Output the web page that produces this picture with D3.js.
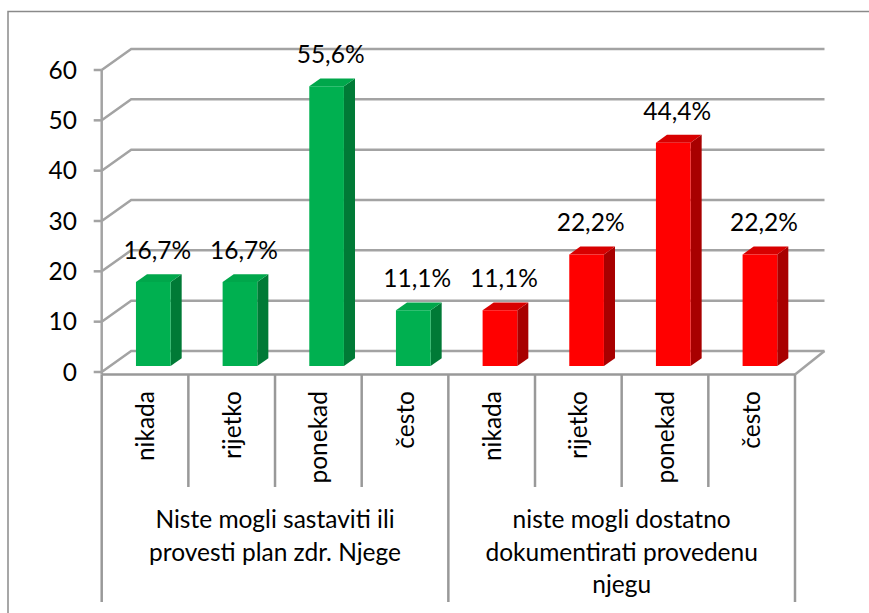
<!DOCTYPE html>
<html><head><meta charset="utf-8">
<script src="https://cdn.jsdelivr.net/npm/d3@7/dist/d3.min.js"></script>
<style>
html,body{margin:0;padding:0;background:#fff;}
svg text{font-family:Lato,"Open Sans",sans-serif;fill:#000;}
</style></head>
<body>
<svg id="chart" width="869" height="613"></svg>
<script>
const categories = ["nikada", "rijetko", "ponekad", "često"];
const groupLabels = [
  ["Niste mogli sastaviti ili", "provesti plan zdr. Njege"],
  ["niste mogli dostatno", "dokumentirati provedenu", "njegu"]
];
const seriesA = [16.7, 16.7, 55.6, 11.1];   // Niste mogli sastaviti...
const seriesB = [11.1, 22.2, 44.4, 22.2];   // niste mogli dostatno...
const labelsA = ["16,7%", "16,7%", "55,6%", "11,1%"];
const labelsB = ["11,1%", "22,2%", "44,4%", "22,2%"];
const yTicks = [0, 10, 20, 30, 40, 50, 60];
const seriesColors = [
  {front: "#00B050", top: "#00A74B", side: "#007A36"},
  {front: "#FF0000", top: "#D80000", side: "#A80000"}
];

// build combined table
const bars = [];
[seriesA, seriesB].forEach((s, g) => s.forEach((v, i) => bars.push({
  g, i, key: g * 4 + i, cat: categories[i], v, label: (g ? labelsB : labelsA)[i]
})));

const svg = d3.select("#chart");
const X0 = 101.7, X1 = 795, Y0 = 372, Ytop = 70;
const DX = 29.5, DY = 21;         // depth offset of back wall
const AXY = 374.5;                 // category axis line
const FS = 24.5;
const x = d3.scaleBand().domain(d3.range(8)).range([X0, X1]).padding(0);
const y = d3.scaleLinear().domain([0, 60]).range([Y0, Ytop]);
const P = (px, py, z) => [px + z * DX, py - z * DY];
const grid = "#A3A3A3";

// outer border
svg.append("rect").attr("x", 8).attr("y", 11.5).attr("width", 880).attr("height", 640)
  .attr("fill", "none").attr("stroke", "#8A8A8A").attr("stroke-width", 1.5);

// walls: gridlines
const gl = svg.append("g").attr("fill", "none").attr("stroke", grid).attr("stroke-width", 2.5);
yTicks.forEach(t => {
  const a = P(X0, y(t), 0), b = P(X0, y(t), 1), c = P(X1, y(t), 1);
  gl.append("path").attr("d", `M${a}L${b}L${c}`);
});
// floor right edge
gl.append("path").attr("d", `M${P(X1, AXY, 0)}L${P(X1, y(0), 1)}`);

// bars
const z0 = 0.28, z1 = 0.655;
const bw = x.bandwidth();
const bg = svg.append("g");
bars.forEach(d => {
  const col = seriesColors[d.g];
  const xa = x(d.key) + bw * 0.3, xb = x(d.key) + bw * 0.7;
  const yv = y(d.v), yb = y(0);
  const f = [P(xa, yv, z0), P(xb, yv, z0), P(xb, yb, z0), P(xa, yb, z0)];
  const tp = [P(xa, yv, z0), P(xb, yv, z0), P(xb, yv, z1), P(xa, yv, z1)];
  const sd = [P(xb, yv, z0), P(xb, yv, z1), P(xb, yb, z1), P(xb, yb, z0)];
  bg.append("polygon").attr("points", sd.join(" ")).attr("fill", col.side);
  bg.append("polygon").attr("points", tp.join(" ")).attr("fill", col.top);
  bg.append("polygon").attr("points", f.join(" ")).attr("fill", col.front);
  const lp = P((xa + xb) / 2, yv, z0);
  bg.append("text").attr("x", lp[0] + 4).attr("y", lp[1] - 23)
    .attr("text-anchor", "middle").attr("font-size", FS).text(d.label);
});

// y axis
const ya = svg.append("g").attr("stroke", grid).attr("stroke-width", 2.5).attr("fill", "none");
ya.append("line").attr("x1", X0).attr("x2", X0).attr("y1", y(60)).attr("y2", AXY);
yTicks.forEach(t => {
  ya.append("line").attr("x1", X0 - 8).attr("x2", X0).attr("y1", y(t)).attr("y2", y(t));
  svg.append("text").attr("x", 77).attr("y", y(t)).attr("dy", "0.36em")
    .attr("text-anchor", "end").attr("font-size", FS).text(t);
});

// category axis
const ca = svg.append("g").attr("stroke", "#999").attr("stroke-width", 2.5);
ca.append("line").attr("x1", X0).attr("x2", X1).attr("y1", AXY).attr("y2", AXY);
d3.range(9).forEach(k => {
  const px = k < 8 ? x(k) : X1;
  const long = k % 4 === 0;
  ca.append("line").attr("x1", px).attr("x2", px).attr("y1", AXY).attr("y2", long ? 602 : 487);
});
bars.forEach(d => {
  const cx = x(d.key) + bw / 2;
  svg.append("text").attr("transform", `translate(${cx},391) rotate(-90)`)
    .attr("dy", "0.36em").attr("text-anchor", "end").attr("font-size", FS).text(d.cat);
});
groupLabels.forEach((lines, g) => {
  const cx = (x(g * 4) + (g === 1 ? X1 : x(4))) / 2;
  lines.forEach((ln, j) => {
    svg.append("text").attr("x", cx).attr("y", 528 + j * 32.5)
      .attr("text-anchor", "middle").attr("font-size", FS).text(ln);
  });
});
</script>
</body></html>
